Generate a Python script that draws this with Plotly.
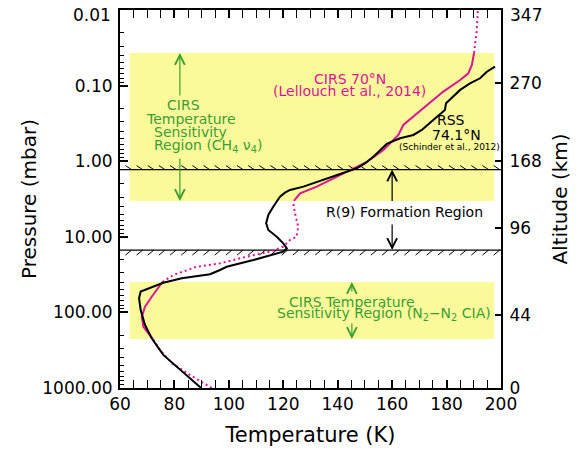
import numpy as np
import plotly.graph_objects as go

# ---------------- data ----------------
# RSS 74.1N (Schinder et al., 2012): temperature (K) vs pressure (mbar)
rss_T = [89.8, 75.9, 71.65, 69.2, 67.6, 67.0, 67.6, 71.0, 75.9, 82.7, 93.1, 96.75, 99.2,
         109.0, 115.75, 120.0, 121.3, 120.0, 117.6, 114.5, 113.7, 114.5, 116.3, 118.8,
         120.6, 122.5, 127.4, 134.7, 142.1, 147.0, 150.0, 153.1, 158.0, 162.9, 167.8,
         170.9, 175.1, 179.4, 179.8, 182.5, 185.0, 188.6, 192.3, 194.8, 197.8]
rss_p = [1000, 365, 220, 147, 93, 65, 53, 47, 40.5, 35.4, 31.3, 27.5, 24.9,
         20.3, 17.4, 15.7, 14.2, 12.2, 9.97, 8.13, 6.63, 5.15, 4.0, 2.95,
         2.61, 2.40, 2.17, 1.77, 1.45, 1.24, 1.07, 0.871, 0.591, 0.497, 0.450,
         0.386, 0.285, 0.210, 0.171, 0.140, 0.114, 0.0933, 0.080, 0.0655, 0.0562]

# CIRS 70N (Lellouch et al., 2014), split into dotted (outside) / solid (inside sensitivity)
cirs_low_dot_T = [93.7, 85.7, 79.0, 74.7, 72.1]
cirs_low_dot_p = [1000, 673, 467, 314, 225]
cirs_low_sol_T = [72.1, 68.6, 68.0, 69.2, 71.65, 74.7, 75.6]
cirs_low_sol_p = [225, 155, 114, 84, 62, 43.5, 39.6]
cirs_mid_dot_T = [75.6, 79.6, 88.2, 96.75, 106.6, 115.1, 120.0, 122.5, 124.9, 125.5, 124.3, 123.7, 123.9]
cirs_mid_dot_p = [39.6, 32.0, 24.9, 22.4, 18.3, 15.7, 13.5, 11.0, 9.97, 7.35, 4.89, 3.60, 3.36]
cirs_up_sol_T = [123.9, 126.2, 132.3, 138.4, 144.5, 150.7, 156.8, 162.3, 164.1, 171.5, 178.8,
                 185.0, 188.0, 189.3, 190.1]
cirs_up_sol_p = [3.36, 2.66, 2.17, 1.68, 1.31, 1.02, 0.71, 0.45, 0.332, 0.200, 0.120,
                 0.0843, 0.0687, 0.0534, 0.037]
cirs_top_dot_T = [190.1, 190.5, 191.1, 191.5]
cirs_top_dot_p = [0.037, 0.0275, 0.0184, 0.01]

# regions
band_T = [63.5, 197.5]
band_upper_p = [0.037, 3.36]      # CIRS CH4 nu4 sensitivity
band_lower_p = [39.6, 225]        # CIRS N2-N2 CIA sensitivity
r9_p = [1.29, 15.0]               # R(9) formation region boundaries

# axis ticks
p_ticks = [0.01, 0.1, 1, 10, 100, 1000]
p_labels = ["0.01", "0.10", "1.00", "10.00", "100.00", "1000.00"]
alt_p = [0.01, 0.0925, 1.0, 7.66, 108, 1000]
alt_labels = ["347", "270", "168", "96", "44", "0"]
T_ticks = [60, 80, 100, 120, 140, 160, 180, 200]

# ---------------- style ----------------
FONT = "DejaVu Sans"
YELLOW = "#FAFA9B"
GREEN = "#3C9E32"
MAGENTA = "#DC1496"
TICKSIZE = 17

fig = go.Figure()

def band(pr, name):
    fig.add_trace(go.Scatter(
        x=[band_T[0], band_T[1], band_T[1], band_T[0], band_T[0]],
        y=[pr[0], pr[0], pr[1], pr[1], pr[0]],
        fill="toself", fillcolor=YELLOW, line=dict(width=0), mode="lines",
        hoverinfo="skip", showlegend=False, name=name))

band(band_upper_p, "upper band")
band(band_lower_p, "lower band")

# hatched boundaries of R(9) region
hx = np.arange(62.0, 199.0, 4.1)
hw = 2.2
def hatched(p, up):
    fig.add_trace(go.Scatter(x=[60, 200], y=[p, p], mode="lines",
                             line=dict(color="black", width=1.2),
                             hoverinfo="skip", showlegend=False))
    xs, ys = [], []
    for t in hx:
        xs += [t, t + hw, None]
        if up:
            ys += [p / 10 ** 0.053, p, None]
        else:
            ys += [p * 10 ** 0.066, p, None]
    fig.add_trace(go.Scatter(x=xs, y=ys, mode="lines",
                             line=dict(color="black", width=1),
                             hoverinfo="skip", showlegend=False))

hatched(r9_p[0], True)
hatched(r9_p[1], False)

def curve(T, p, color, dash):
    fig.add_trace(go.Scatter(x=T, y=p, mode="lines",
                             line=dict(color=color, width=2, dash=dash),
                             showlegend=False))

dot = "2px,3px"
curve(cirs_low_dot_T, cirs_low_dot_p, MAGENTA, dot)
curve(cirs_mid_dot_T, cirs_mid_dot_p, MAGENTA, dot)
curve(cirs_top_dot_T, cirs_top_dot_p, MAGENTA, dot)
curve(cirs_low_sol_T, cirs_low_sol_p, MAGENTA, "solid")
curve(cirs_up_sol_T, cirs_up_sol_p, MAGENTA, "solid")
curve(rss_T, rss_p, "black", "solid")

# invisible trace on the altitude axis
fig.add_trace(go.Scatter(x=[60], y=[1], yaxis="y2", mode="markers",
                         marker=dict(opacity=0), hoverinfo="skip", showlegend=False))

ann = []
def text(T, p, s, size, color, anchor="left"):
    ann.append(dict(x=T, y=np.log10(p), xref="x", yref="y", text=s, showarrow=False,
                    xanchor=anchor, yanchor="middle",
                    font=dict(family=FONT, size=size, color=color)))

def arrow(T, p_head, ay, color):
    ann.append(dict(x=T, y=np.log10(p_head), xref="x", yref="y", text="", showarrow=True,
                    ax=0, ay=ay, arrowhead=5, arrowsize=1.6, arrowwidth=1.2,
                    arrowcolor=color))

def lp(ypix):
    return 10 ** (-2 + (ypix - 10) / 75.6)

# upper green region
text(76.5, lp(105), "CIRS", 14, GREEN)
text(68.8, lp(119), "Temperature", 14, GREEN)
text(71.65, lp(132.3), "Sensitivity", 14, GREEN)
text(71.65, lp(146), "Region (CH<sub>4</sub> ν<sub>4</sub>)", 14, GREEN)
arrow(82.0, band_upper_p[0], 44, GREEN)
arrow(82.0, band_upper_p[1], -44, GREEN)

# R(9)
text(135.0, lp(212.3), "R(9) Formation Region", 14, "black")
arrow(160.0, r9_p[0], 33, "black")
arrow(160.0, r9_p[1], -27, "black")

# lower green region
text(121.3, lp(301.7), "CIRS Temperature", 14, GREEN)
text(117.0, lp(314.3), "Sensitivity Region (N<sub>2</sub>−N<sub>2</sub> CIA)", 14, GREEN)
arrow(145.2, band_lower_p[0], 11, GREEN)
arrow(145.2, band_lower_p[1], -17, GREEN)

# curve labels
text(144.5, lp(79.3), "CIRS 70°N", 14, MAGENTA, "center")
text(144.5, lp(91), "(Lellouch et al., 2014)", 14, MAGENTA, "center")
text(181.6, lp(120), "RSS", 14, "black", "center")
text(183.7, lp(135), "74.1°N", 14, "black", "center")
text(180.9, lp(146.7), "(Schinder et al., 2012)", 9, "black", "center")

# top tick labels sit slightly below the frame corner (as in the original), drawn as text
ann.append(dict(x=0, y=1, xref="paper", yref="paper", text=p_labels[0], showarrow=False,
                xanchor="right", yanchor="middle", xshift=-7, yshift=-5,
                font=dict(family=FONT, size=TICKSIZE, color="black")))
ann.append(dict(x=1, y=1, xref="paper", yref="paper", text=alt_labels[0], showarrow=False,
                xanchor="left", yanchor="middle", xshift=7, yshift=-5,
                font=dict(family=FONT, size=TICKSIZE, color="black")))
p_text = [""] + p_labels[1:]
alt_text = [""] + alt_labels[1:]

minor_p = [m * 10.0 ** e for e in range(-2, 3) for m in range(2, 10)]

# page body has an 8px margin: figure is sized so the plot lands at x 120-501, y 10-388
fig.update_layout(
    width=573, height=443,
    margin=dict(l=112, r=80, t=2, b=63, autoexpand=False),
    plot_bgcolor="white", paper_bgcolor="white",
    font=dict(family=FONT, color="black"),
    annotations=ann,
    xaxis=dict(range=[60, 200], tickvals=T_ticks, ticks="inside", ticklen=8, tickwidth=1.5,
               tickcolor="black", minor=dict(dtick=5, ticks="inside", ticklen=4, tickwidth=1.2,
                                             tickcolor="black", showgrid=False),
               mirror="allticks", showline=True, linewidth=2, linecolor="black",
               showgrid=False, zeroline=False, tickfont=dict(size=TICKSIZE), automargin=False,
               title=dict(text="Temperature (K)", font=dict(size=21), standoff=14)),
    yaxis=dict(type="log", range=[3, -2], tickvals=p_ticks, ticktext=p_text,
               ticks="inside", ticklen=8, tickwidth=1.5, tickcolor="black",
               minor=dict(tickvals=minor_p, ticks="inside", ticklen=4, tickwidth=1.2,
                          tickcolor="black", showgrid=False),
               showline=True, linewidth=2, linecolor="black", showgrid=False,
               zeroline=False, tickfont=dict(size=TICKSIZE), ticklabelstandoff=2,
               automargin=False,
               title=dict(text="Pressure (mbar)", font=dict(size=20), standoff=0)),
    yaxis2=dict(type="log", range=[3, -2], overlaying="y", side="right",
                tickvals=alt_p, ticktext=alt_text, ticks="inside", ticklen=6,
                tickwidth=1.5, tickcolor="black", showline=True, linewidth=2,
                linecolor="black", showgrid=False, zeroline=False, automargin=False,
                tickfont=dict(size=TICKSIZE), ticklabelstandoff=3,
                title=dict(text="Altitude (km)", font=dict(size=20), standoff=12)),
)

fig.write_html("out.html")
